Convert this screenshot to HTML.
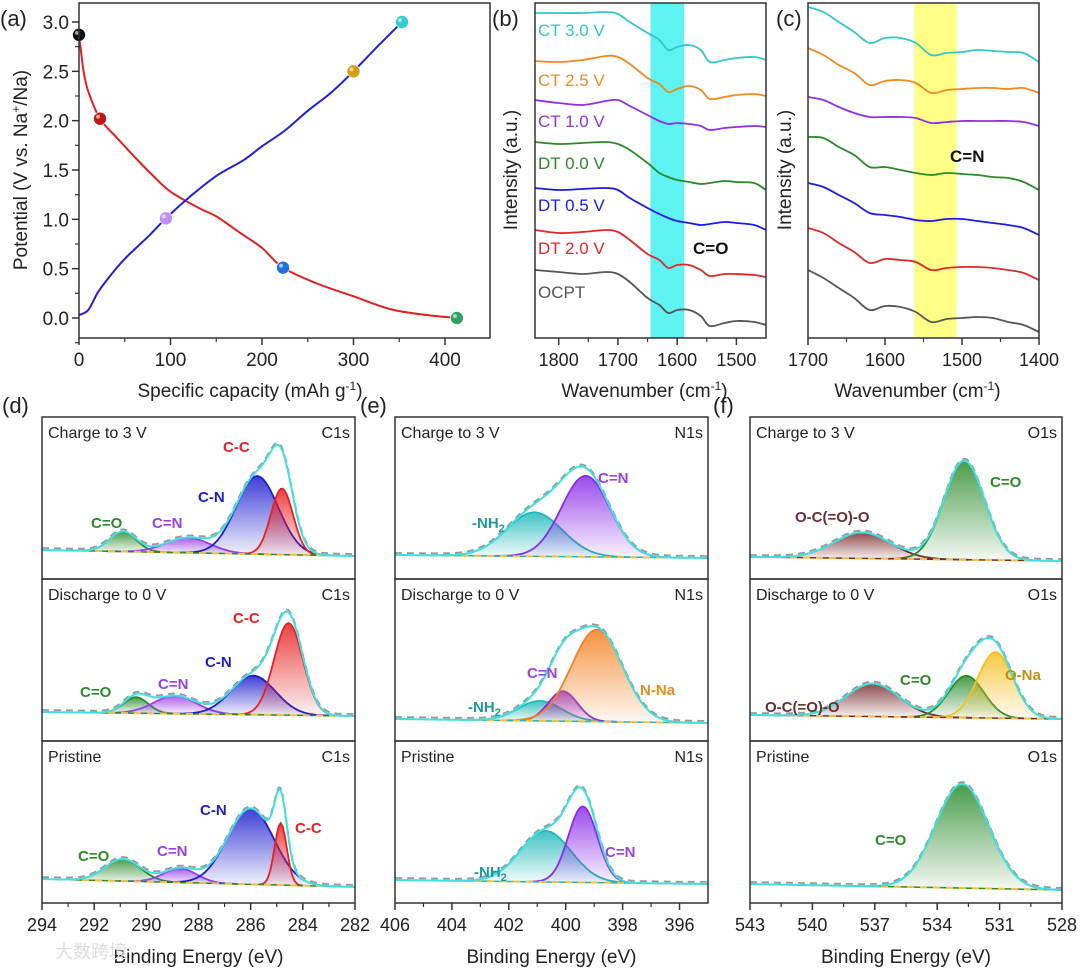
<!DOCTYPE html>
<html><head><meta charset="utf-8"><style>
html,body{margin:0;padding:0;background:#fff;}
svg{display:block;font-family:"Liberation Sans","Noto Sans CJK SC",sans-serif;}
</style></head><body>
<svg id="fig" width="1080" height="972" viewBox="0 0 1080 972" xmlns="http://www.w3.org/2000/svg">
<defs id="defs"></defs>
</svg>
<script>
// ---------- Panel (a) data ----------
const capDis=[0,2,5,10,23,40,50,60,80,100,130,150,175,200,223,260,300,340,380,413];
const volDis=[2.87,2.72,2.5,2.3,2.02,1.84,1.74,1.64,1.45,1.28,1.12,1.03,0.87,0.71,0.51,0.35,0.22,0.09,0.03,0.0];
const capChg=[0,10,20,30,50,75,95,120,150,180,200,225,250,275,300,325,353];
const volChg=[0.03,0.08,0.25,0.38,0.6,0.82,1.01,1.22,1.44,1.6,1.74,1.9,2.1,2.28,2.5,2.74,3.0];
const markCap=[0,23,95,223,300,353,413];
const markVol=[2.87,2.02,1.01,0.51,2.5,3.0,0.0];
const markCol=['#111','#c01818','#c090f0','#2070e0','#d0a010','#30d0d0','#30a060'];
const aXTicks=[0,100,200,300,400];
const aYTicks=[0.0,0.5,1.0,1.5,2.0,2.5,3.0];
// ---------- Panel (b) FTIR ----------
const bWave=[1840,1800,1760,1720,1700,1680,1650,1630,1615,1600,1580,1560,1545,1520,1500,1470,1450];
const bCT30=[325,325,325,326,324,316,305,298,288,291,293,288,276,278,280,281,278];
const bCT25=[277,276,278,282,281,274,260,254,246,249,252,248,239,241,243,244,242];
const bCT10=[238,235,233,237,238,232,223,217,214,215,214,212,208,210,211,212,211];
const bDT00=[196,194,195,196,194,188,175,165,161,158,156,154,155,157,156,155,148];
const bDT05=[150,148,149,150,148,140,130,124,120,117,115,113,114,116,115,113,108];
const bDT20=[108,105,106,108,106,98,84,78,70,73,73,68,62,64,64,63,61];
const bOCPT=[68,66,64,66,64,56,40,33,25,28,28,22,12,15,17,16,13];
const bTicks=[1800,1700,1600,1500];
// ---------- Panel (c) FTIR ----------
const cWave=[1700,1680,1660,1640,1620,1600,1580,1560,1540,1520,1500,1480,1460,1440,1420,1400];
const cCT30=[331,326,316,306,295,300,300,295,283,285,286,288,287,286,285,276];
const cCT25=[290,283,273,265,253,257,258,255,245,248,249,250,250,249,250,245];
const cCT10=[241,238,231,225,221,221,221,220,215,216,217,217,217,217,216,212];
const cDT00=[201,200,191,183,171,171,168,165,163,165,164,163,161,160,156,148];
const cDT05=[155,151,143,135,125,123,121,118,117,119,119,117,115,113,110,103];
const cDT20=[110,105,95,86,75,79,78,76,68,70,71,71,70,68,65,58];
const cOCPT=[68,60,50,40,28,32,31,26,16,19,20,21,20,16,13,6];
const cTicks=[1700,1600,1500,1400];
// ---------- XPS C1s (d) ----------
const dTicks=[294,292,290,288,286,284,282];
const dChgCenters=[290.9,288.4,285.75,284.8];
const dChgHeights=[20,15,78,66];
const dChgFwhm=[1.2,2.0,1.9,1.0];
const dDisCenters=[290.4,288.9,285.9,284.55];
const dDisHeights=[16,18,39,92];
const dDisFwhm=[1.1,1.9,2.0,1.3];
const dPriCenters=[290.9,288.7,286.0,284.85];
const dPriHeights=[22,14,76,62];
const dPriFwhm=[1.6,1.5,2.1,0.55];
const dColors=['#2a8a2a','#9a40e8','#1c1cd0','#e82020'];
// ---------- XPS N1s (e) ----------
const eTicks=[406,404,402,400,398,396];
const eChgCenters=[401.1,399.3];
const eChgHeights=[44,81];
const eChgFwhm=[2.3,2.0];
const eDisCenters=[400.9,400.1,398.9];
const eDisHeights=[20,30,92];
const eDisFwhm=[1.8,1.2,2.1];
const ePriCenters=[400.7,399.4];
const ePriHeights=[51,76];
const ePriFwhm=[2.1,1.2];
const eChgColors=['#20b8b8','#8a2ae8'];
const eDisColors=['#20b8b8','#8a2ae8','#f58020'];
const ePriColors=['#20b8b8','#8a2ae8'];
// ---------- XPS O1s (f) ----------
const fTicks=[543,540,537,534,531,528];
const fChgCenters=[537.6,532.7];
const fChgHeights=[26,99];
const fChgFwhm=[3.2,2.3];
const fDisCenters=[537.1,532.6,531.2];
const fDisHeights=[33,42,66];
const fDisFwhm=[3.0,2.0,2.0];
const fPriCenters=[532.8];
const fPriHeights=[104];
const fPriFwhm=[3.0];
const fChgColors=['#7a2a2a','#2a8a2a'];
const fDisColors=['#7a2a2a','#2a8a2a','#f5c020'];
const fPriColors=['#2a8a2a'];

const NS='http://www.w3.org/2000/svg';
const svg=document.getElementById('fig');
const defs=document.getElementById('defs');
function mk(tag,attrs,parent){const e=document.createElementNS(NS,tag);for(const k in attrs)e.setAttribute(k,attrs[k]);(parent||svg).appendChild(e);return e;}
function txt(s,x,y,size,attrs,parent){const t=mk('text',Object.assign({x:x,y:y,'font-size':size,fill:'#222'},attrs||{}),parent);t.textContent=s;return t;}
let gid=0;
function grad(color){gid++;const g=mk('linearGradient',{id:'g'+gid,x1:0,y1:0,x2:0,y2:1},defs);mk('stop',{offset:'0','stop-color':color,'stop-opacity':0.85},g);mk('stop',{offset:'1','stop-color':color,'stop-opacity':0.05},g);return 'url(#g'+gid+')';}
function line(pts,attrs,parent){return mk('polyline',Object.assign({points:pts.map(p=>p[0].toFixed(1)+','+p[1].toFixed(1)).join(' '),fill:'none'},attrs),parent);}
function smooth(pts,attrs,parent){
  let d='M'+pts[0][0].toFixed(1)+','+pts[0][1].toFixed(1);
  for(let i=0;i<pts.length-1;i++){
    const p0=pts[Math.max(0,i-1)],p1=pts[i],p2=pts[i+1],p3=pts[Math.min(pts.length-1,i+2)];
    const c1=[p1[0]+(p2[0]-p0[0])/6,p1[1]+(p2[1]-p0[1])/6],c2=[p2[0]-(p3[0]-p1[0])/6,p2[1]-(p3[1]-p1[1])/6];
    d+=' C'+c1[0].toFixed(1)+','+c1[1].toFixed(1)+' '+c2[0].toFixed(1)+','+c2[1].toFixed(1)+' '+p2[0].toFixed(1)+','+p2[1].toFixed(1);
  }
  return mk('path',Object.assign({d:d,fill:'none'},attrs),parent);
}

// ================= Panel (a) =================
const ax=c=>79+c*0.915, ay=v=>318-v*98.67;
const gA=mk('g',{});


let t=txt('(a)',0,26,22,{},gA);


let el=smooth(capDis.map((c,i)=>[ax(c),ay(volDis[i])]),{stroke:'#e02020','stroke-width':2},gA);


el=smooth(capChg.map((c,i)=>[ax(c),ay(volChg[i])]),{stroke:'#2020d8','stroke-width':2},gA);


markCap.forEach((c,i)=>{
  const m=mk('circle',{cx:ax(c),cy:ay(markVol[i]),r:6.5,fill:markCol[i],stroke:'#fff','stroke-width':0.6},gA);
  
  
  mk('circle',{cx:ax(c)-2,cy:ay(markVol[i])-2,r:2,fill:'#fff','fill-opacity':0.6},gA);
});
el=mk('rect',{x:79,y:3,width:411,height:335,fill:'none',stroke:'#333','stroke-width':1.5},gA);


aXTicks.forEach(v=>{mk('line',{x1:ax(v),x2:ax(v),y1:338,y2:345,stroke:'#333','stroke-width':1.5},gA);
  const l=txt(String(v),ax(v),366,19,{'text-anchor':'middle'},gA);
  
  });
[50,150,250,350,450].forEach(v=>{if(ax(v)<=490)mk('line',{x1:ax(v),x2:ax(v),y1:338,y2:342,stroke:'#333','stroke-width':1.2},gA);});
aYTicks.forEach(v=>{mk('line',{x1:72,x2:79,y1:ay(v),y2:ay(v),stroke:'#333','stroke-width':1.5},gA);
  const l=txt(v.toFixed(1),69,ay(v)+7,19,{'text-anchor':'end'},gA);
  
  });
[-0.25,0.25,0.75,1.25,1.75,2.25,2.75].forEach(v=>mk('line',{x1:75,x2:79,y1:ay(v),y2:ay(v),stroke:'#333','stroke-width':1.2},gA));
t=txt('Specific capacity (mAh g',250,397,19,{'text-anchor':'middle'},gA);
const sp=mk('tspan',{dy:-7,'font-size':12},t);sp.textContent='-1';
const sp2=mk('tspan',{dy:7},t);sp2.textContent=')';


t=txt('Potential (V vs. Na',0,0,19,{transform:'translate(27,170) rotate(-90)','text-anchor':'middle'},gA);
let s1=mk('tspan',{dy:-7,'font-size':12},t);s1.textContent='+';
let s2=mk('tspan',{dy:7},t);s2.textContent='/Na)';



// ================= FTIR panels =================
function ftir(name,label,lblX,x0,x1,w0,w1,waves,series,colors,ticks,minor,band,bandCol,ylabX){
  const g=mk('g',{});
  
  
  const xs=w=>x0+(w0-w)*(x1-x0)/(w0-w1), ys=v=>338-v;
  let r=mk('rect',{x:xs(band[0]),y:3,width:xs(band[1])-xs(band[0]),height:335,fill:bandCol},g);
  
  
  series.forEach((sv,i)=>{
    const p=smooth(waves.map((w,j)=>[xs(w),ys(sv[j])]),{stroke:colors[i],'stroke-width':1.8},g);
    
    
  });
  r=mk('rect',{x:x0,y:3,width:x1-x0,height:335,fill:'none',stroke:'#333','stroke-width':1.5},g);
  
  
  ticks.forEach(v=>{mk('line',{x1:xs(v),x2:xs(v),y1:338,y2:345,stroke:'#333','stroke-width':1.5},g);
    const l=txt(String(v),xs(v),366,18,{'text-anchor':'middle'},g);
    
    });
  minor.forEach(v=>mk('line',{x1:xs(v),x2:xs(v),y1:338,y2:342,stroke:'#333','stroke-width':1.2},g));
  let l=txt(label,lblX,26,22,{},g);
  
  
  l=txt('Intensity (a.u.)',0,0,19,{transform:'translate('+ylabX+',170) rotate(-90)','text-anchor':'middle'},g);
  
  
  l=txt('Wavenumber (cm',(x0+x1)/2-6,397,19,{'text-anchor':'middle'},g);
  const a=mk('tspan',{dy:-7,'font-size':12},l);a.textContent='-1';
  const b=mk('tspan',{dy:7},l);b.textContent=')';
  
  
  return g;
}
const ftirCols=['#30c8c8','#f08a20','#9030e0','#2a8a2a','#1c1ce0','#e02828','#555'];
const gB=ftir('panel-b','(b)',492,535,766,1840,1450,bWave,[bCT30,bCT25,bCT10,bDT00,bDT05,bDT20,bOCPT],ftirCols,bTicks,[1750,1650,1550],[1645,1588],'#5ef2f2',517);
[['CT 3.0 V',36],['CT 2.5 V',86],['CT 1.0 V',127],['DT 0.0 V',169],['DT 0.5 V',211],['DT 2.0 V',254],['OCPT',298]].forEach((d,i)=>{
  const l=txt(d[0],538,d[1],17,{fill:ftirCols[i]},gB);
  
  });
t=txt('C=O',693,254,17,{'font-weight':'bold',fill:'#111'},gB);


const gC=ftir('panel-c','(c)',776,808,1039,1700,1400,cWave,[cCT30,cCT25,cCT10,cDT00,cDT05,cDT20,cOCPT],ftirCols,cTicks,[1650,1550,1450],[1562,1507],'#ffff88',791);
t=txt('C=N',950,162,17,{'font-weight':'bold',fill:'#111'},gC);



// ================= XPS panels =================
const subTops=[417,579,741];
function xpsPanel(name,label,lblX,x0,x1,e0,e1,ticks,minor,core,subs){
  const g=mk('g',{});
  
  
  const xs=e=>x0+(e0-e)*(x1-x0)/(e0-e1);
  subs.forEach((sb,si)=>{
    const top=subTops[si];
    const base=x=>sb.b0+(sb.b1-sb.b0)*(x-x0)/(x1-x0);
    const N=160, xsArr=[];for(let i=0;i<=N;i++)xsArr.push(x0+(x1-x0)*i/N);
    const E=x=>e0-(x-x0)*(e0-e1)/(x1-x0);
    const gauss=(k,x)=>{const s=sb.fw[k]/2.355;const d=E(x)-sb.c[k];return sb.h[k]*Math.exp(-d*d/(2*s*s));};
    sb.c.forEach((c,k)=>{
      const pts=xsArr.filter(x=>Math.abs(E(x)-c)<sb.fw[k]*1.6);
      const poly=pts.map(x=>[x,base(x)-gauss(k,x)]);
      const area=mk('path',{d:'M'+poly.map(p=>p[0].toFixed(1)+','+p[1].toFixed(1)).join(' L')+' L'+pts[pts.length-1].toFixed(1)+','+base(pts[pts.length-1]).toFixed(1)+' L'+pts[0].toFixed(1)+','+base(pts[0]).toFixed(1)+'Z',fill:grad(sb.col[k]),stroke:'none'},g);
      
      
      const ln=line(poly,{stroke:sb.col[k],'stroke-width':1.8},g);
      
      
    });
    let bl=line([[x0,sb.b0],[x1,sb.b1]],{stroke:sb.col[0],'stroke-width':1.5},g);
    
    
    bl=line([[x0+40,sb.b0+(sb.b1-sb.b0)*40/(x1-x0)],[x1-10,sb.b1-(sb.b1-sb.b0)*10/(x1-x0)]],{stroke:'#f0c040','stroke-width':2,'stroke-dasharray':'7,6'},g);
    
    
    const env=xsArr.map(x=>{let s=0;sb.c.forEach((c,k)=>s+=gauss(k,x));return [x,base(x)-s];});
    let raw=line(env.map(p=>[p[0],p[1]-2]),{stroke:'#999','stroke-width':1.8,'stroke-dasharray':'7,5'},g);
    
    
    let en=line(env,{stroke:'#40e0e0','stroke-width':2},g);
    
    
    const fr=mk('rect',{x:x0,y:top,width:x1-x0,height:162,fill:'none',stroke:'#333','stroke-width':1.5},g);
    
    
    let l=txt(sb.title,x0+6,top+21,16,{},g);
    
    
    l=txt(core,x1-5,top+21,16,{'text-anchor':'end'},g);
    
    
    sb.lab.forEach(L=>{
      const lt=txt(L[0],L[1],L[2],15,{'font-weight':'bold',fill:L[3]},g);
      if(L[4]){const a=mk('tspan',{dy:4,'font-size':11},lt);a.textContent='2';}
      
      
    });
  });
  ticks.forEach(v=>{mk('line',{x1:xs(v),x2:xs(v),y1:903,y2:910,stroke:'#333','stroke-width':1.5},g);
    const l=txt(String(v),xs(v),931,18,{'text-anchor':'middle'},g);
    
    });
  minor.forEach(v=>mk('line',{x1:xs(v),x2:xs(v),y1:903,y2:907,stroke:'#333','stroke-width':1.2},g));
  let l=txt(label,lblX,413,22,{},g);
  
  
  l=txt('Binding Energy (eV)',(x0+x1)/2,963,19,{'text-anchor':'middle'},g);
  
  
}
const G='#2a8a2a',P='#9a40e8',B='#1c1cd0',R='#e82020',T='#1a9a9a',O='#f08a20',BR='#6a3030',Y='#c09010';
xpsPanel('panel-d','(d)',2,42,355,294,282,dTicks,[293,291,289,287,285,283],'C1s',[
 {title:'Charge to 3 V',b0:550,b1:556,c:dChgCenters,h:dChgHeights,fw:dChgFwhm,col:dColors,lab:[['C=O',91,528,G],['C=N',152,528,P],['C-N',198,502,B],['C-C',223,452,R]]},
 {title:'Discharge to 0 V',b0:712,b1:716,c:dDisCenters,h:dDisHeights,fw:dDisFwhm,col:dColors,lab:[['C=O',80,697,G],['C=N',158,689,P],['C-N',205,667,B],['C-C',233,623,R]]},
 {title:'Pristine',b0:879,b1:887,c:dPriCenters,h:dPriHeights,fw:dPriFwhm,col:dColors,lab:[['C=O',78,861,G],['C=N',157,856,P],['C-N',200,815,B],['C-C',295,833,R]]}]);
xpsPanel('panel-e','(e)',360,395,708,406,395,eTicks,[405,403,401,399,397],'N1s',[
 {title:'Charge to 3 V',b0:555,b1:558,c:eChgCenters,h:eChgHeights,fw:eChgFwhm,col:eChgColors,lab:[['-NH',472,528,T,1],['C=N',598,483,P]]},
 {title:'Discharge to 0 V',b0:719,b1:723,c:eDisCenters,h:eDisHeights,fw:eDisFwhm,col:eDisColors,lab:[['C=N',527,678,P],['-NH',468,712,T,1],['N-Na',640,695,O]]},
 {title:'Pristine',b0:880,b1:884,c:ePriCenters,h:ePriHeights,fw:ePriFwhm,col:ePriColors,lab:[['-NH',474,877,T,1],['C=N',605,857,P]]}]);
xpsPanel('panel-f','(f)',713,750,1062,543,528,fTicks,[541.5,538.5,535.5,532.5,529.5],'O1s',[
 {title:'Charge to 3 V',b0:557,b1:561,c:fChgCenters,h:fChgHeights,fw:fChgFwhm,col:fChgColors,lab:[['O-C(=O)-O',795,522,BR],['C=O',990,487,G]]},
 {title:'Discharge to 0 V',b0:715,b1:719,c:fDisCenters,h:fDisHeights,fw:fDisFwhm,col:fDisColors,lab:[['O-C(=O)-O',765,712,BR],['C=O',900,685,G],['O-Na',1005,680,Y]]},
 {title:'Pristine',b0:884,b1:890,c:fPriCenters,h:fPriHeights,fw:fPriFwhm,col:fPriColors,lab:[['C=O',875,845,G]]}]);
t=txt('大数跨境',55,958,18,{fill:'#ddd'});


</script>
</body></html>
